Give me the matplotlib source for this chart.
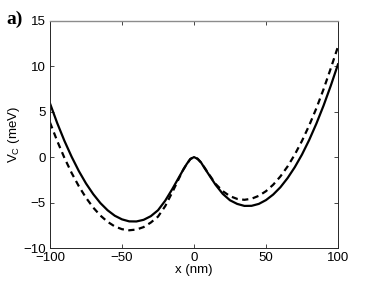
#!/usr/bin/env python3
"""
Double-well confinement potential V_C(x), two cases (solid / dashed)
"""

import matplotlib
matplotlib.use('Agg')
import matplotlib.pyplot as plt

# values
x_solid = [-100, -95, -90, -85, -80, -75, -70, -65, -60, -55, -50, -45, -40,
           -35, -30, -25, -20, -15, -10, -7.5, -5, -2.5, 0, 2.5, 5, 7.5, 10,
           15, 20, 25, 30, 35, 40, 45, 50, 55, 60, 65, 70, 75, 80, 85, 90,
           95, 100]
v_solid = [5.9, 3.74, 1.79, 0.04, -1.53, -2.9, -4.07, -5.06, -5.85, -6.45,
           -6.85, -7.07, -7.08, -6.9, -6.5, -5.85, -4.8, -3.5, -2.1, -1.4,
           -0.75, -0.22, 0.0, -0.2, -0.62, -1.25, -1.85, -3.05, -4.05, -4.75,
           -5.15, -5.37, -5.36, -5.15, -4.73, -4.12, -3.32, -2.31, -1.11,
           0.28, 1.88, 3.68, 5.67, 7.85, 10.2]

x_dashed = [-100, -95, -90, -85, -80, -75, -70, -65, -60, -55, -50, -45, -40,
            -35, -30, -25, -20, -15, -10, -7.5, -5, -2.5, 0, 2.5, 5, 7.5, 10,
            15, 20, 25, 30, 35, 40, 45, 50, 55, 60, 65, 70, 75, 80, 85, 90,
            95, 100]
v_dashed = [3.8, 1.77, -0.08, -1.74, -3.2, -4.47, -5.55, -6.43, -7.12, -7.63,
            -7.93, -8.05, -7.97, -7.7, -7.2, -6.55, -5.4, -3.85, -2.2, -1.4,
            -0.75, -0.2, 0.0, -0.18, -0.6, -1.2, -1.8, -2.95, -3.75, -4.3,
            -4.6, -4.7, -4.58, -4.26, -3.75, -3.04, -2.13, -1.03, 0.28, 1.78,
            3.48, 5.37, 7.47, 9.76, 12.15]

x_ticks = [-100, -50, 0, 50, 100]
y_ticks = [-10, -5, 0, 5, 10, 15]

plt.rcParams['font.family'] = ['Liberation Sans', 'DejaVu Sans']
plt.rcParams['mathtext.fontset'] = 'custom'
plt.rcParams['mathtext.rm'] = 'Liberation Sans'

fig = plt.figure(figsize=(3.74, 2.81), dpi=100)
ax = fig.add_axes([0.1337, 0.1174, 0.770, 0.809])

ax.plot(x_solid, v_solid, color='black', linewidth=1.6, linestyle='-')
ax.plot(x_dashed, v_dashed, color='black', linewidth=1.6,
        linestyle=(0, (2.8, 2.0)))

ax.set_xlim(-100, 100)
ax.set_ylim(-10, 15)
ax.set_xticks(x_ticks)
ax.set_yticks(y_ticks)
ax.tick_params(direction='in', length=3, width=0.6, labelsize=9.5,
               top=True, right=True, pad=3, colors='0.15')
ax.tick_params(labelcolor='black')

for side in ['left', 'bottom', 'right']:
    ax.spines[side].set_color('0.15')
    ax.spines[side].set_linewidth(0.7)
ax.spines['top'].set_color('0.55')
ax.spines['top'].set_linewidth(1.0)

ax.set_xlabel('x (nm)', fontsize=9.5, labelpad=0)
ax.set_ylabel(r'V$_\mathrm{C}$ (meV)', fontsize=9.5, labelpad=1)

fig.text(0.018, 0.915, 'a)', fontsize=14, fontweight='bold',
         family=['Liberation Serif', 'DejaVu Serif'])

fig.savefig('out.png', dpi=100)
